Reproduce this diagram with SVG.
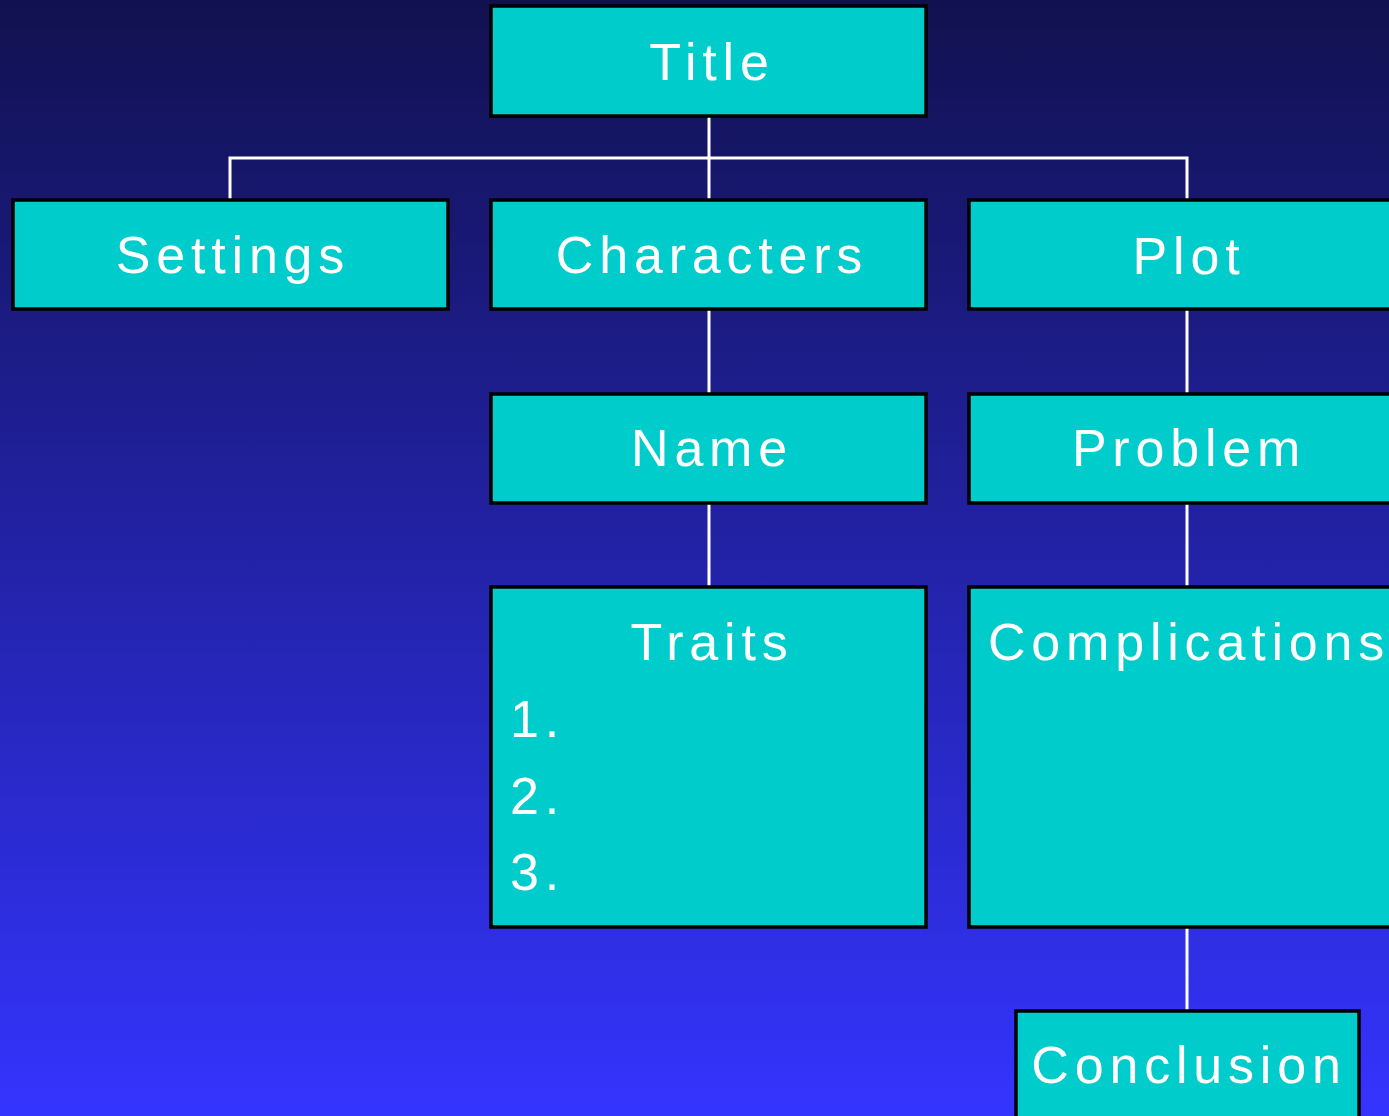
<svg xmlns="http://www.w3.org/2000/svg" width="1389" height="1116" viewBox="0 0 1389 1116">
<defs>
<linearGradient id="bg" x1="0" y1="0" x2="0" y2="1">
<stop offset="0" stop-color="#11114f"/>
<stop offset="1" stop-color="#3434ff"/>
</linearGradient>
</defs>
<style>
.box{fill:#00cccc;stroke:#000;stroke-width:3.5}
.lbl{font-family:"Liberation Sans",Arial,sans-serif;font-size:52px;fill:#fff;letter-spacing:5.8px;text-anchor:middle}
.lst{font-family:"Liberation Sans",Arial,sans-serif;font-size:52px;fill:#fff;letter-spacing:5.8px}
.con{stroke:#fff;stroke-width:3;fill:none}
</style>
<rect x="0" y="0" width="1389" height="1116" fill="url(#bg)"/>
<g id="connectors">
<path class="con" d="M709 116V200"/>
<path class="con" d="M230 200V158H1187V200"/>
<path class="con" d="M709 309V393"/>
<path class="con" d="M709 503V586"/>
<path class="con" d="M1187 309V393"/>
<path class="con" d="M1187 503V586"/>
<path class="con" d="M1187 927V1010"/>
</g>
<g id="title"><rect class="box" x="491" y="6" width="435" height="110"/><text class="lbl" x="712" y="80">Title</text></g>
<g id="settings"><rect class="box" x="13" y="200" width="435" height="109"/><text class="lbl" x="233" y="273">Settings</text></g>
<g id="characters"><rect class="box" x="491" y="200" width="435" height="109"/><text class="lbl" x="712" y="273">Characters</text></g>
<g id="plot"><rect class="box" x="969" y="200" width="436" height="109"/><text class="lbl" x="1189" y="274">Plot</text></g>
<g id="name"><rect class="box" x="491" y="394" width="435" height="109"/><text class="lbl" x="712" y="466">Name</text></g>
<g id="problem"><rect class="box" x="969" y="394" width="436" height="109"/><text class="lbl" x="1189" y="466">Problem</text></g>
<g id="traits"><rect class="box" x="491" y="587" width="435" height="340"/><text class="lbl" x="712" y="660">Traits</text>
<text class="lst" x="510" y="737">1.</text><text class="lst" x="510" y="814">2.</text><text class="lst" x="510" y="890">3.</text></g>
<g id="complications"><rect class="box" x="969" y="587" width="436" height="340"/><text class="lbl" x="1189" y="660">Complications</text></g>
<g id="conclusion"><rect class="box" x="1016" y="1011" width="343" height="120"/><text class="lbl" x="1189" y="1083">Conclusion</text></g>
</svg>
